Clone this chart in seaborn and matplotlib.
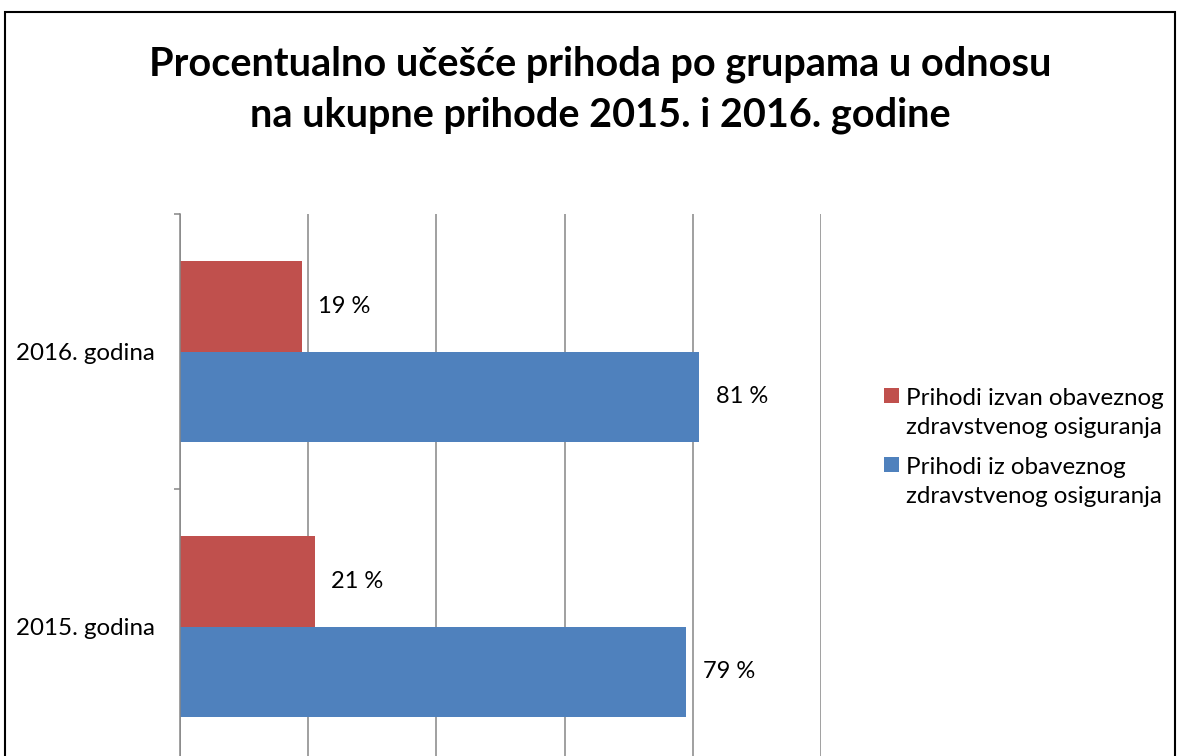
import pandas as pd
import seaborn as sns
import matplotlib.pyplot as plt
from matplotlib.patches import Rectangle
from matplotlib.legend_handler import HandlerPatch

# Chart data
godine = ['2016. godina', '2015. godina']
serije = ['Prihodi izvan obaveznog\nzdravstvenog osiguranja',
          'Prihodi iz obaveznog\nzdravstvenog osiguranja']
izvan_oos = [19, 21]
iz_oos = [81, 79]
boje = ['#C0504D', '#4F81BD']
naslov = 'Procentualno učešće prihoda po grupama u odnosu\nna ukupne prihode 2015. i 2016. godine'


def square_on_first_line(legend, orig_handle, xdescent, ydescent, width, height, fontsize):
    # legend square next to the first text line, like in Excel
    return Rectangle((-xdescent, -ydescent + 0.72 * fontsize), width, height)


def create_chart():
    sns.set_theme(style='white')
    plt.rcParams['font.family'] = ['Lato', 'DejaVu Sans']
    plt.rcParams['text.color'] = 'black'
    plt.rcParams['ytick.color'] = 'black'

    df = pd.DataFrame({
        'godina': godine * 2,
        'serija': [serije[0]] * len(godine) + [serije[1]] * len(godine),
        'vrijednost': izvan_oos + iz_oos,
    })

    fig = plt.figure(figsize=(11.81, 7.56), dpi=100)
    ax = fig.add_axes([0.1524, -0.0106, 0.5428, 0.7275])

    sns.barplot(
        data=df, x='vrijednost', y='godina', hue='serija',
        order=godine, hue_order=serije, orient='h',
        palette=boje, saturation=1, width=0.66, ax=ax,
        edgecolor='none',
    )

    for cont in ax.containers:
        ax.bar_label(cont, fmt='%g %%', padding=12, fontsize=17, color='black')

    ax.set_xlim(0, 100)
    ax.set_ylim(1.5, -0.5)
    ax.set_xticks([0, 20, 40, 60, 80, 100])
    ax.set_xticklabels([])
    ax.tick_params(axis='x', length=0)
    ax.grid(axis='x', color='#868686', linewidth=1.1)
    ax.grid(axis='y', visible=False)
    ax.set_axisbelow(True)

    ax.set_yticks([-0.5, 0.5, 1.5], minor=True)
    ax.tick_params(axis='y', which='minor', length=4, width=1.1, color='#868686', left=True)
    ax.tick_params(axis='y', which='major', length=0, pad=18, labelsize=17.4,
                   labelcolor='black')
    ax.set_xlabel('')
    ax.set_ylabel('')

    for side in ['top', 'right', 'bottom']:
        ax.spines[side].set_visible(False)
    ax.spines['left'].set_color('#868686')
    ax.spines['left'].set_linewidth(1.1)

    handles, labels = ax.get_legend_handles_labels()
    ax.get_legend().remove()
    leg = fig.legend(handles, labels, loc='upper left', bbox_to_anchor=(0.7304, 0.515),
                     frameon=False, fontsize=17.4, handlelength=0.6, handleheight=0.6,
                     handletextpad=0.3, labelspacing=0.78,
                     handler_map={h: HandlerPatch(patch_func=square_on_first_line)
                                  for h in handles})
    for t in leg.get_texts():
        t.set_linespacing(1.45)

    fig.text(0.508, 0.881, naslov, ha='center', va='center',
             fontsize=28.5, fontweight='bold', linespacing=1.45, color='black')

    # outer chart border
    fig.patches.append(Rectangle((0.004, -0.05), 0.991, 1.034, transform=fig.transFigure,
                                 fill=False, edgecolor='black', linewidth=1.5))

    plt.savefig('out.png', dpi=100)
    plt.close()


if __name__ == "__main__":
    create_chart()
